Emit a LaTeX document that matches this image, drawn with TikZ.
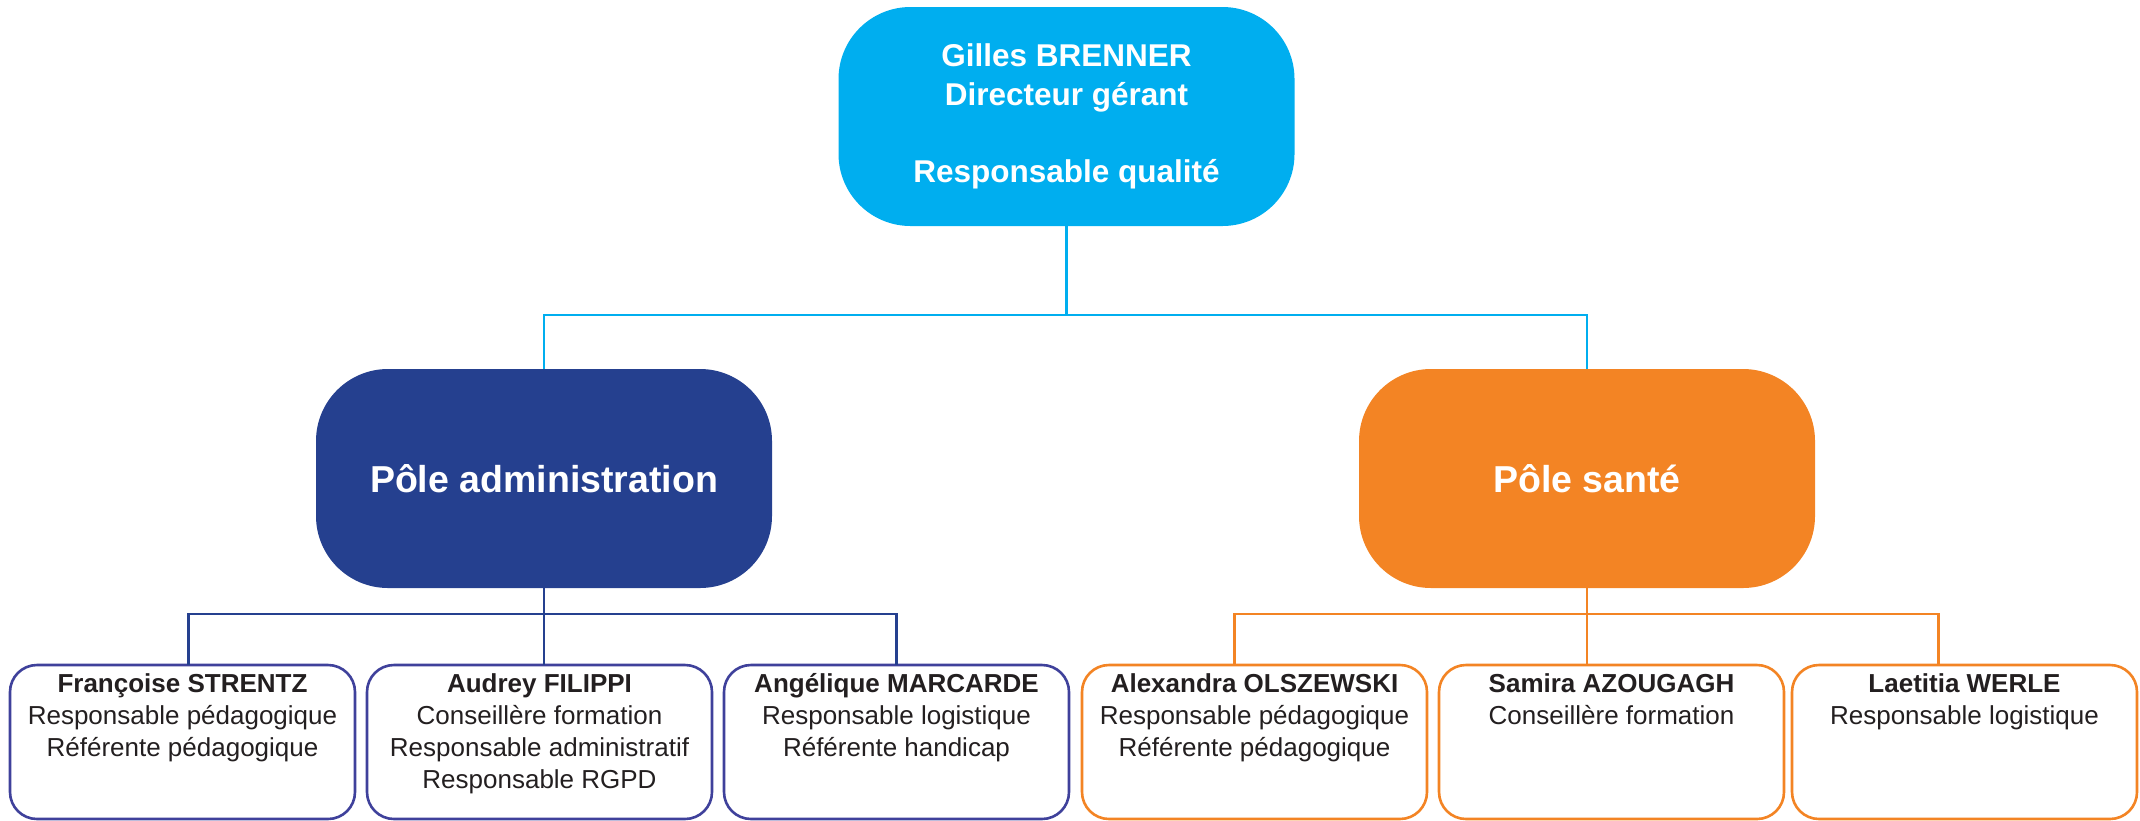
\documentclass[tikz,border=0pt]{standalone}
\usepackage{fontspec}
\setmainfont{Liberation Sans}
\definecolor{topcyan}{HTML}{00AEEF}
\definecolor{admblue}{HTML}{25408F}
\definecolor{admedge}{HTML}{3F419B}
\definecolor{santeor}{HTML}{F38424}
\definecolor{inktext}{HTML}{231F20}
% card contents: bold name on the first line, roles below, all top aligned
\newcommand\staffcard[2]{\parbox[t][154pt][t]{345pt}{\centering
  \fontsize{26}{32}\selectfont\color{inktext}%
  \rule{0pt}{27pt}\textbf{#1}\\#2}}
\begin{document}
\begin{tikzpicture}[x=1pt,y=-1pt,
  every node/.style={inner sep=0pt, outer sep=0pt},
  bigbox/.style={rectangle, rounded corners=72pt, fill=#1, text=white,
    align=center, minimum width=456pt, minimum height=219pt},
  headfont/.style={font={\bfseries\fontsize{31.5}{38.5}\selectfont}},
  polefont/.style={font={\bfseries\fontsize{37.5}{44}\selectfont}},
  card/.style={rectangle, rounded corners=27pt, draw=#1, line width=2.6pt,
    fill=white, minimum width=345pt, minimum height=154pt, anchor=north west},
  link/.style={draw=#1, line width=2.6pt}
]
\useasboundingbox (0,0) rectangle (2140,820);

% head of the organisation
\node[bigbox=topcyan, headfont] (head) at (1066.5,116.5)
  {Gilles BRENNER\\Directeur gérant\\[38.5pt]Responsable qualité};

% the two departments
\node[bigbox=admblue, polefont] (admin) at (544,478.5) {Pôle administration};
\node[bigbox=santeor, polefont] (sante) at (1587,478.5) {Pôle santé};

% staff cards
\node[card=admedge] (b1) at (10,665)
  {\staffcard{Françoise STRENTZ}{Responsable pédagogique\\Référente pédagogique}};
\node[card=admedge] (b2) at (367,665)
  {\staffcard{Audrey FILIPPI}{Conseillère formation\\Responsable administratif\\Responsable RGPD}};
\node[card=admedge] (b3) at (724,665)
  {\staffcard{Angélique MARCARDE}{Responsable logistique\\Référente handicap}};
\node[card=santeor] (b4) at (1082,665)
  {\staffcard{Alexandra OLSZEWSKI}{Responsable pédagogique\\Référente pédagogique}};
\node[card=santeor] (b5) at (1439,665)
  {\staffcard{Samira AZOUGAGH}{Conseillère formation}};
\node[card=santeor] (b6) at (1792,665)
  {\staffcard{Laetitia WERLE}{Responsable logistique}};

% head to departments
\draw[link=topcyan] (head.south) -- ++(0,89) coordinate (jt);
\draw[link=topcyan] (jt) -| (admin.north);
\draw[link=topcyan] (jt) -| (sante.north);

% administration to its staff
\draw[link=admblue] (admin.south) -- ++(0,26) coordinate (ja);
\draw[link=admblue] (ja) -| ([xshift=6pt]b1.north);
\draw[link=admblue] (ja) -- (ja |- b2.north);
\draw[link=admblue] (ja) -| (b3.north);

% health to its staff
\draw[link=santeor] (sante.south) -- ++(0,26) coordinate (js);
\draw[link=santeor] (js) -| ([xshift=-20pt]b4.north);
\draw[link=santeor] (js) -- (js |- b5.north);
\draw[link=santeor] (js) -| ([xshift=-26pt]b6.north);
\end{tikzpicture}
\end{document}
